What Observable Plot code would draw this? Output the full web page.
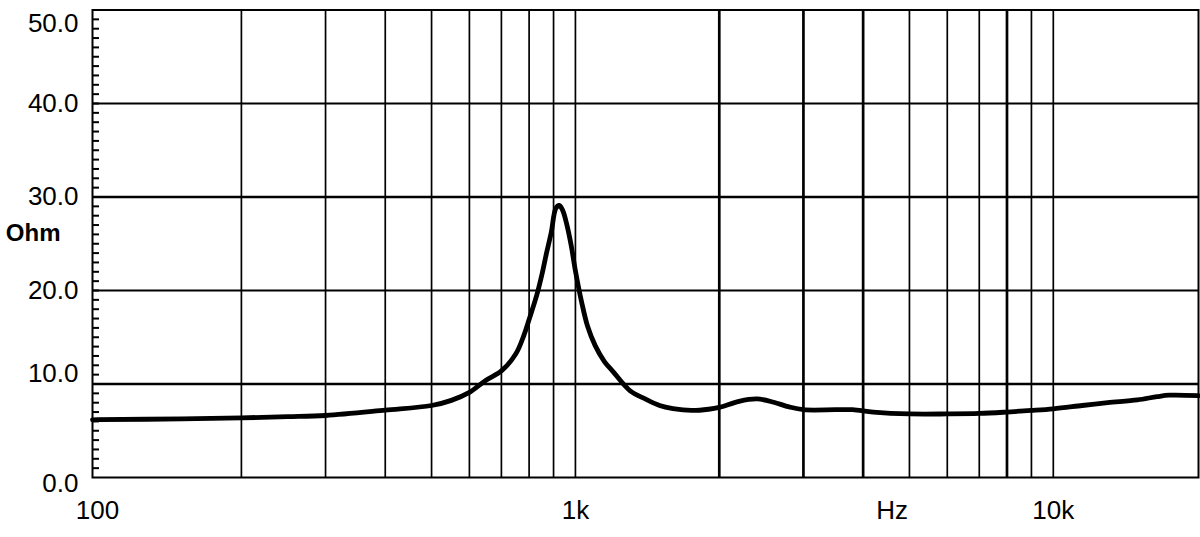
<!DOCTYPE html>
<html>
<head>
<meta charset="utf-8">
<script src="https://cdn.jsdelivr.net/npm/d3@7"></script>
<script src="https://cdn.jsdelivr.net/npm/@observablehq/plot@0.6"></script>
<style>
  html, body { margin: 0; padding: 0; background: #fff; }
  #chart svg { display: block; }
</style>
</head>
<body>
<div id="chart"></div>
<script>
// Impedance curve (frequency in Hz, impedance in Ohm)
const freqs = [97.6, 100, 150, 200, 250, 300, 400, 500, 550, 600, 650, 700, 750, 780, 800, 830, 850, 870, 890, 910, 925, 940, 960, 980, 1000, 1030, 1060, 1100, 1150, 1200, 1300, 1400, 1500, 1600, 1750, 1900, 2000, 2200, 2400, 2600, 2800, 3000, 3500, 3800, 4200, 5000, 6000, 7000, 8000, 9000, 10000, 11500, 13000, 15000, 16500, 17500, 20130];
const ohms  = [6.17, 6.18, 6.27, 6.38, 6.5, 6.63, 7.2, 7.7, 8.25, 9.1, 10.4, 11.4, 13.2, 15.2, 16.9, 19.5, 21.6, 24.0, 26.2, 28.8, 29.1, 28.6, 27.0, 24.8, 22.1, 18.8, 16.2, 14.1, 12.4, 11.3, 9.3, 8.4, 7.7, 7.37, 7.17, 7.3, 7.5, 8.15, 8.4, 8.05, 7.55, 7.25, 7.25, 7.25, 7.0, 6.8, 6.8, 6.85, 7.0, 7.17, 7.35, 7.7, 8.0, 8.3, 8.65, 8.8, 8.75];

// Axis / grid definitions
const xDomain = [97.6, 20130];
const yDomain = [0, 50];
const xTickValues = [100, 1000, 10000];
const xTickLabels = ["100", "1k", "10k"];
const xGridValues = [200, 300, 400, 500, 600, 700, 800, 900, 1000, 2000, 3000, 4000, 5000, 6000, 7000, 8000, 9000, 10000];
const xGridHeavy = [2000, 3000, 4000, 8000];
const yGridValues = [10, 20, 30, 40];
const yGridHeavy = [10, 30];
const yMinorTicks = d3.range(1, 50);
const xUnitLabel = "Hz";
const xUnitPos = 4600;
const yUnitLabel = "Ohm";
const yUnitPos = 26.1;

const data = freqs.map((f, i) => ({f, z: ohms[i]}));

const font = '"Liberation Sans", Arial, Helvetica, sans-serif';
const fs = 26;

const chart = Plot.plot({
  width: 1200,
  height: 537,
  marginLeft: 92,
  marginRight: 2,
  marginTop: 9.5,
  marginBottom: 60,
  style: {fontFamily: font, fontSize: fs + "px", color: "#000", background: "#fff"},
  x: {type: "log", domain: xDomain},
  y: {domain: yDomain},
  marks: [
    Plot.ruleX(xGridValues, {x: d => d, stroke: "#000", strokeWidth: d => xGridHeavy.includes(d) ? 2.7 : 1.7}),
    Plot.ruleY(yGridValues, {y: d => d, stroke: "#000", strokeWidth: d => yGridHeavy.includes(d) ? 2.6 : 2}),
    Plot.tickY(yMinorTicks, {y: d => d, stroke: "#000", strokeWidth: 2, insetRight: 1106 - 7}),
    Plot.frame({stroke: "#000", strokeWidth: 2}),
    Plot.line(data, {x: "f", y: "z", stroke: "#000", strokeWidth: 4.8, curve: "catmull-rom", strokeLinejoin: "round", strokeLinecap: "round"}),
    // x tick labels
    Plot.axisX({ticks: xTickValues, tickFormat: d => xTickLabels[xTickValues.indexOf(d)], tickSize: 0, tickPadding: 23, label: null, fontSize: fs}),
    Plot.axisX({ticks: [xUnitPos], tickFormat: () => xUnitLabel, tickSize: 0, tickPadding: 23, label: null, fontSize: fs}),
    // y tick labels with the original's individual offsets
    Plot.axisY({ticks: [50], tickFormat: d => d.toFixed(1), tickSize: 0, tickPadding: 14, dy: 13.5, label: null, fontSize: fs}),
    Plot.axisY({ticks: [40, 30, 20], tickFormat: d => d.toFixed(1), tickSize: 0, tickPadding: 14, label: null, fontSize: fs}),
    Plot.axisY({ticks: [10], tickFormat: d => d.toFixed(1), tickSize: 0, tickPadding: 14, dy: -10, label: null, fontSize: fs}),
    Plot.axisY({ticks: [0], tickFormat: d => d.toFixed(1), tickSize: 0, tickPadding: 14, dy: 6, label: null, fontSize: fs}),
    Plot.axisY({ticks: [yUnitPos], tickFormat: () => yUnitLabel, tickSize: 0, tickPadding: 32, label: null, fontSize: 24, fontWeight: "bold"})
  ]
});
document.getElementById("chart").appendChild(chart);
</script>
</body>
</html>
